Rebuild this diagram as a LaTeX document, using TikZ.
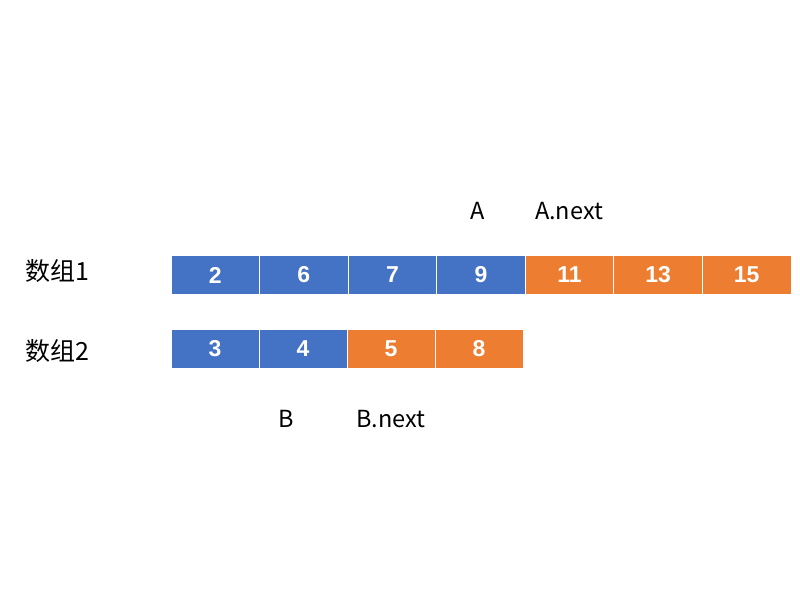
\documentclass[tikz,border=0pt]{standalone}
\usepackage{fontspec}
\setmainfont{Liberation Sans}
\newfontfamily\cjk{Noto Sans CJK SC}
\definecolor{cblue}{HTML}{4472C4}
\definecolor{corange}{HTML}{ED7D31}
\begin{document}
\begin{tikzpicture}[x=1pt,y=-1pt,
  cell/.style={draw=white,line width=1pt,minimum height=39pt,inner sep=0pt,
    text=white,font=\fontsize{23}{23}\selectfont\bfseries},
  bcell/.style={cell,fill=cblue},
  ocell/.style={cell,fill=corange},
  lab/.style={font=\cjk\fontsize{23.5}{23.5}\selectfont,inner sep=0pt},
  clab/.style={font=\cjk\fontsize{25}{25}\selectfont,inner sep=0pt}]
\useasboundingbox[fill=white] (0,0) rectangle (800,600);
% array 1
\foreach \v [count=\i from 0] in {2,6,7,9}
  \node[bcell,minimum width=88.57pt] (a\i) at ({171+88.57*(\i+0.5)},275) {\v};
\foreach \v [count=\i from 4] in {11,13,15}
  \node[ocell,minimum width=88.57pt] (a\i) at ({171+88.57*(\i+0.5)},275) {\v};
% array 2
\foreach \v [count=\i from 0] in {3,4}
  \node[bcell,minimum width=88pt] (b\i) at ({171+88*(\i+0.5)},349) {\v};
\foreach \v [count=\i from 2] in {5,8}
  \node[ocell,minimum width=88pt] (b\i) at ({171+88*(\i+0.5)},349) {\v};
% labels
\node[lab] (la) at (478,211) {A};
\node[lab] (lan) at (569,211) {A.next};
\node[lab] (lb) at (286,419) {B};
\node[lab] (lbn) at (391,419) {B.next};
\node[clab] (s1) at (57,271) {数组1};
\node[clab] (s2) at (57,351) {数组2};
\end{tikzpicture}
\end{document}
